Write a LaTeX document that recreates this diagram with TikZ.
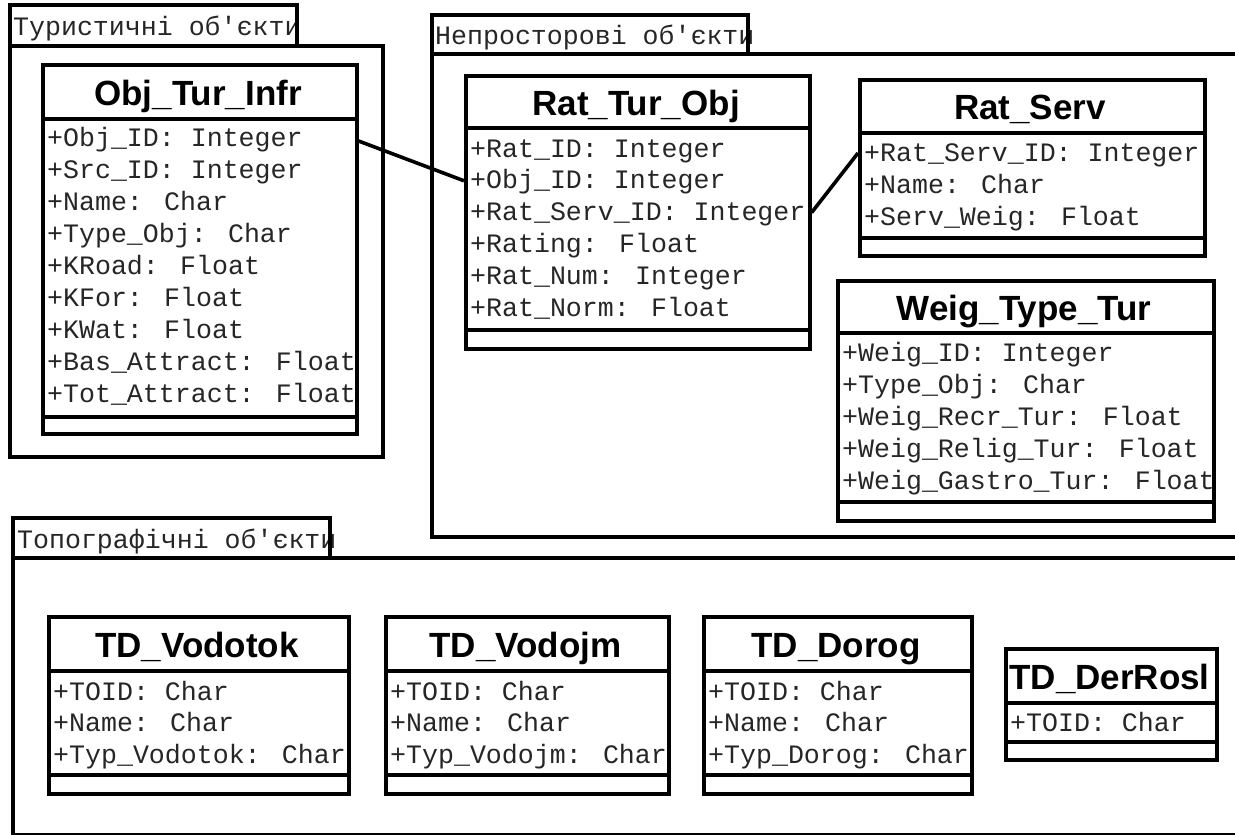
\documentclass[tikz,border=0pt]{standalone}
\usepackage{fontspec}
\newfontfamily\monofnt{Liberation Mono}
\newfontfamily\headfnt{Liberation Sans}
\tikzset{
  pkg/.style={draw, line width=3.6pt},
  cls/.style={draw, line width=3.6pt, anchor=north west, inner sep=0pt},
  sep/.style={line width=3.6pt},
  link/.style={line width=3.6pt},
  clstitle/.style={font=\headfnt\bfseries\fontsize{35}{40}\selectfont, inner sep=0pt, text height=25pt, text depth=0pt},
  attr/.style={font=\monofnt\fontsize{26.6}{30}\selectfont, text=black!85, anchor=west, inner sep=0pt, text height=16pt, text depth=0pt}
}
\begin{document}
\begin{tikzpicture}[x=1pt, y=-1pt]
\useasboundingbox (0,0) rectangle (1235,835);

% packages
\node[attr] (pkgTur) at (13,27) {Туристичні об\textquotesingle єкти};
\draw[pkg] (10,5) rectangle (297,46);
\draw[pkg] (10,46) rectangle (383,457);
\node[attr] (pkgNon) at (435,36) {Непросторові об\textquotesingle єкти};
\draw[pkg] (432,15) rectangle (748,54);
\draw[pkg] (432,54) rectangle (1245,537);
\node[attr] (pkgTop) at (17,540) {Топографічні об\textquotesingle єкти};
\draw[pkg] (13,518) rectangle (330,558);
\draw[pkg] (13,558) rectangle (1245,835);

% Obj_Tur_Infr
\node[cls, minimum width=314pt, minimum height=369pt] (oti) at (41,63) {};
\node[clstitle] (otiT) at (198,93) {Obj\_Tur\_Infr};
\draw[sep] (41,119) -- (355,119);
\draw[sep] (41,417) -- (355,417);
\foreach \v [count=\i] in {+Obj\_ID: Integer,+Src\_ID: Integer,+Name: Char,+Type\_Obj: Char,+KRoad: Float,+KFor: Float,+KWat: Float,+Bas\_Attract: Float,+Tot\_Attract: Float}
  \node[attr] (oti\i) at (47,{138+32*(\i-1)}) {\v};

% Rat_Tur_Obj
\node[cls, minimum width=344pt, minimum height=273pt] (rto) at (464,74) {};
\node[clstitle] (rtoT) at (636,103) {Rat\_Tur\_Obj};
\draw[sep] (464,128) -- (808,128);
\draw[sep] (464,330) -- (808,330);
\foreach \v [count=\i] in {+Rat\_ID: Integer,+Obj\_ID: Integer,+Rat\_Serv\_ID: Integer,+Rating: Float,+Rat\_Num: Integer,+Rat\_Norm: Float}
  \node[attr] (rto\i) at (470,{149+31.8*(\i-1)}) {\v};

% Rat_Serv
\node[cls, minimum width=345pt, minimum height=176pt] (rs) at (858,78) {};
\node[clstitle] (rsT) at (1030,107) {Rat\_Serv};
\draw[sep] (858,133) -- (1203,133);
\draw[sep] (858,238) -- (1203,238);
\foreach \v [count=\i] in {+Rat\_Serv\_ID: Integer,+Name: Char,+Serv\_Weig: Float}
  \node[attr] (rs\i) at (864,{153+32*(\i-1)}) {\v};

% Weig_Type_Tur
\node[cls, minimum width=376pt, minimum height=240pt] (wtt) at (836,279) {};
\node[clstitle] (wttT) at (1024,308) {Weig\_Type\_Tur};
\draw[sep] (836,333) -- (1212,333);
\draw[sep] (836,502) -- (1212,502);
\foreach \v [count=\i] in {+Weig\_ID: Integer,+Type\_Obj: Char,+Weig\_Recr\_Tur: Float,+Weig\_Relig\_Tur: Float,+Weig\_Gastro\_Tur: Float}
  \node[attr] (wtt\i) at (842,{353+32.2*(\i-1)}) {\v};

% TD classes
\foreach \n/\x/\w/\t in {tdv/47/300/Vodotok,tdj/384/283/Vodojm,tdd/702/268/Dorog}{
  \node[cls, minimum width=\w pt, minimum height=177pt] (\n) at (\x,615) {};
  \node[clstitle] (\n T) at ({\x+\w/2},645) {TD\_\t};
  \draw[sep] (\x,671) -- ++(\w,0);
  \draw[sep] (\x,775) -- ++(\w,0);
  \node[attr] (\n1) at ({\x+6},692) {+TOID: Char};
  \node[attr] (\n2) at ({\x+6},723.5) {+Name: Char};
  \node[attr] (\n3) at ({\x+6},755) {+Typ\_\t: Char};
}

% TD_DerRosl
\node[cls, minimum width=211pt, minimum height=111pt] (tdr) at (1004,647) {};
\node[clstitle] (tdrT) at (1109.5,677) {TD\_DerRosl};
\draw[sep] (1004,703) -- (1215,703);
\draw[sep] (1004,742) -- (1215,742);
\node[attr] (tdr1) at (1010,723) {+TOID: Char};

% links
\draw[link] (oti.east |- 0,141) -- (rto.west |- rto2);
\draw[link] (rto.east |- rto3) -- (rs.west |- rs1);
\end{tikzpicture}
\end{document}
